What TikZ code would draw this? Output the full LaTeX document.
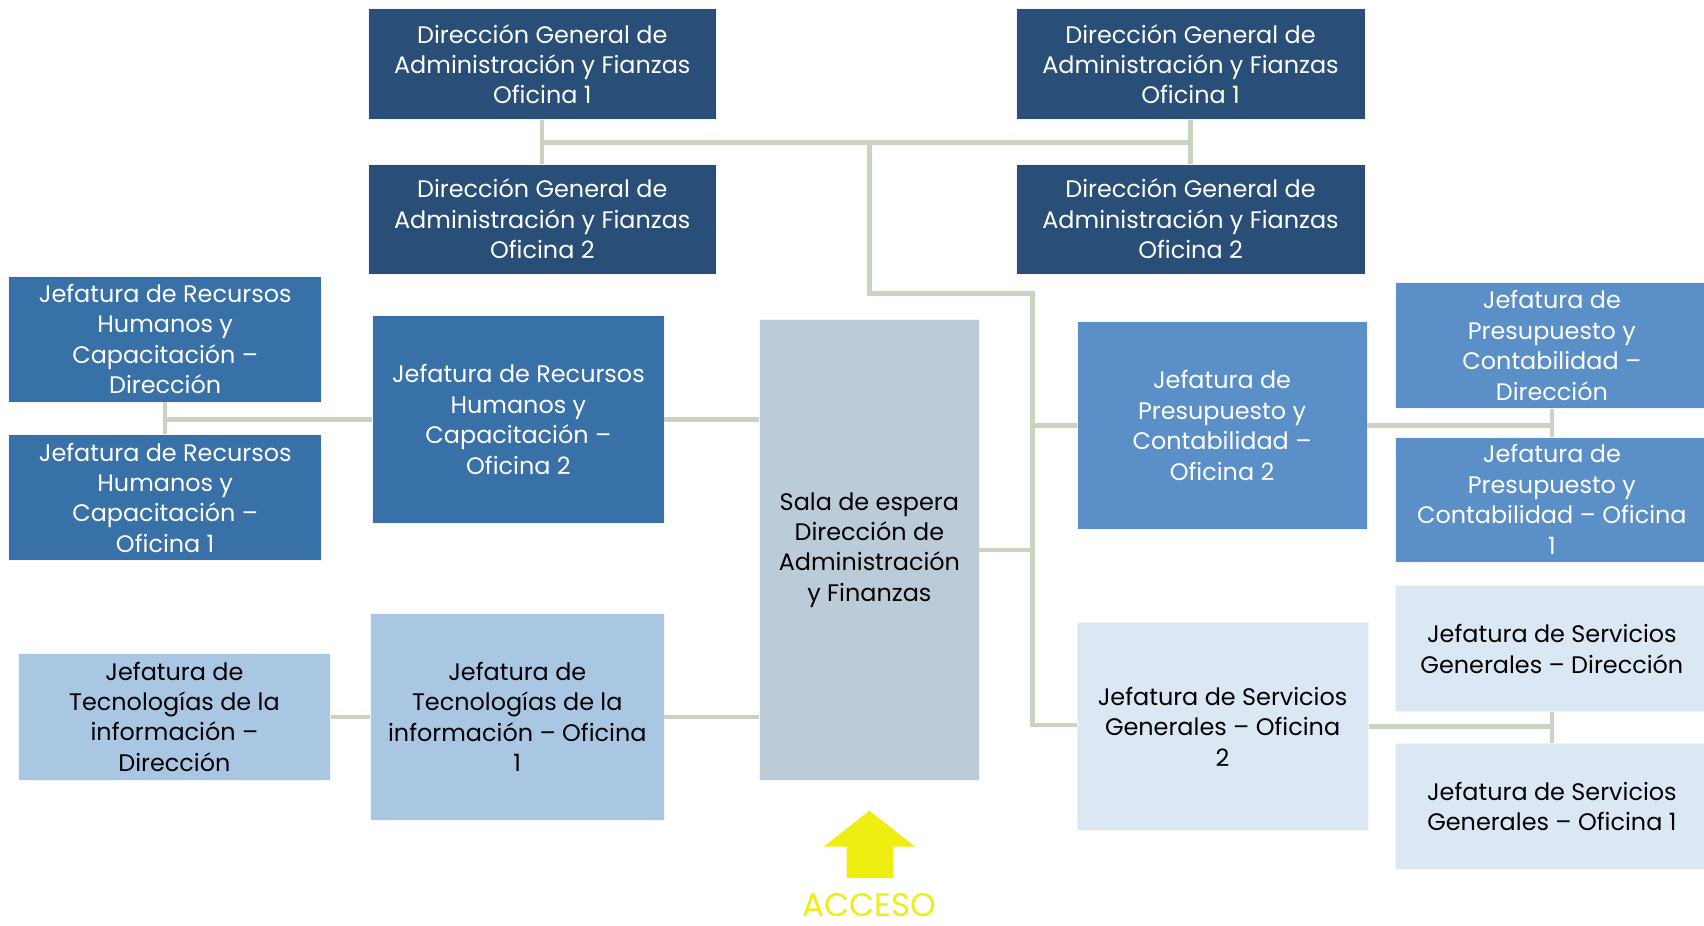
\documentclass[tikz,border=0pt]{standalone}
\usepackage{fontspec}
\setmainfont{Poppins}
\definecolor{navy}{RGB}{41,79,121}
\definecolor{rhblue}{RGB}{56,112,168}
\definecolor{pcblue}{RGB}{91,143,200}
\definecolor{tiblue}{RGB}{169,198,226}
\definecolor{sgblue}{RGB}{219,231,243}
\definecolor{salac}{RGB}{187,204,216}
\definecolor{connc}{RGB}{201,212,191}
\definecolor{yel}{RGB}{238,238,16}
\begin{document}
\begin{tikzpicture}[x=1pt,y=-1pt,
  box/.style={draw=white!80!black!20, line width=0.6pt, align=center, inner sep=0pt,
    font=\fontsize{22}{28}\selectfont},
  dark/.style={box, fill=navy, text=white},
  rh/.style={box, fill=rhblue, text=white},
  pc/.style={box, fill=pcblue, text=white},
  ti/.style={box, fill=tiblue, text=black},
  sg/.style={box, fill=sgblue, text=black},
  sala/.style={box, fill=salac, text=black},
  conn/.style={draw=connc, line width=4pt}]
\useasboundingbox (0,0) rectangle (1568,852);
\fill[white] (0,0) rectangle (1568,852);
% top direction boxes
\node[dark, minimum width=320, minimum height=102] (dg1l) at (499,59) {Dirección General de\\Administración y Fianzas\\Oficina 1};
\node[dark, minimum width=320, minimum height=101] (dg2l) at (499,201.5) {Dirección General de\\Administración y Fianzas\\Oficina 2};
\node[dark, minimum width=321, minimum height=102] (dg1r) at (1095.5,59) {Dirección General de\\Administración y Fianzas\\Oficina 1};
\node[dark, minimum width=321, minimum height=101] (dg2r) at (1095.5,201.5) {Dirección General de\\Administración y Fianzas\\Oficina 2};
% recursos humanos
\node[rh, minimum width=288, minimum height=116] (rhd) at (152,312) {Jefatura de Recursos\\Humanos y\\Capacitación –\\Dirección};
\node[rh, minimum width=288, minimum height=116] (rh1) at (152,458) {Jefatura de Recursos\\Humanos y\\Capacitación –\\Oficina 1};
\node[rh, minimum width=268, minimum height=191] (rh2) at (477,386) {Jefatura de Recursos\\Humanos y\\Capacitación –\\Oficina 2};
% sala
\node[sala, minimum width=202, minimum height=424] (sala) at (800,506) {Sala de espera\\Dirección de\\Administración\\y Finanzas};
% tecnologias
\node[ti, minimum width=287, minimum height=117] (tid) at (160.5,659.5) {Jefatura de\\Tecnologías de la\\información –\\Dirección};
\node[ti, minimum width=270, minimum height=191] (ti1) at (476,659.5) {Jefatura de\\Tecnologías de la\\información – Oficina\\1};
% presupuesto
\node[pc, minimum width=267, minimum height=191] (pc2) at (1124.5,391.5) {Jefatura de\\Presupuesto y\\Contabilidad –\\Oficina 2};
\node[pc, minimum width=288, minimum height=116] (pcd) at (1428,318) {Jefatura de\\Presupuesto y\\Contabilidad –\\Dirección};
\node[pc, minimum width=288, minimum height=115] (pc1) at (1428,459.5) {Jefatura de\\Presupuesto y\\Contabilidad – Oficina\\1};
% servicios generales
\node[sg, minimum width=268, minimum height=191] (sg2) at (1125,668.5) {Jefatura de Servicios\\Generales – Oficina\\2};
\node[sg, minimum width=288, minimum height=116] (sgd) at (1428,597) {Jefatura de Servicios\\Generales – Dirección};
\node[sg, minimum width=288, minimum height=116] (sg1) at (1428,742) {Jefatura de Servicios\\Generales – Oficina 1};
% junction points
\coordinate (jl) at (499,131);
\coordinate (jr) at (1096,131);
\coordinate (jm) at (800,131);
\coordinate (jt) at (800,270);
\coordinate (ju) at (950,270);
\coordinate (jb) at (950,667);
% connectors
\draw[conn] (dg1l.south) -- (dg2l.north);
\draw[conn] (dg1r.south) -- (dg2r.north);
\draw[conn] (jl) -- (jr);
\draw[conn, line join=miter] (jm) -- (jt) -- (ju) -- (jb) -- (jb -| sg2.west);
\draw[conn] (sala.east) -- (sala.east -| jb);
\draw[conn] (pc2.west) -- (pc2.west -| jb);
\draw[conn] (rhd.south) -- (rh1.north);
\draw[conn] (rh2.west) -- (rh2.west -| rhd.south);
\draw[conn] (rh2.east) -- (rh2.east -| sala.west);
\draw[conn] (tid.east) -- (tid.east -| ti1.west);
\draw[conn] (ti1.east) -- (ti1.east -| sala.west);
\draw[conn] (pcd.south) -- (pc1.north);
\draw[conn] (pc2.east) -- (pc2.east -| pcd.south);
\draw[conn] (sgd.south) -- (sg1.north);
\draw[conn] (sg2.east) -- (sg2.east -| sgd.south);
% access arrow
\fill[yel] (779,808) -- (779,779) -- (758,779) -- (800,746) -- (842,779) -- (822,779) -- (822,808) -- cycle;
\node[text=yel, font=\fontsize{30}{36}\selectfont, inner sep=0pt, anchor=base] (acc) at (800,843) {ACCESO};
\end{tikzpicture}
\end{document}
